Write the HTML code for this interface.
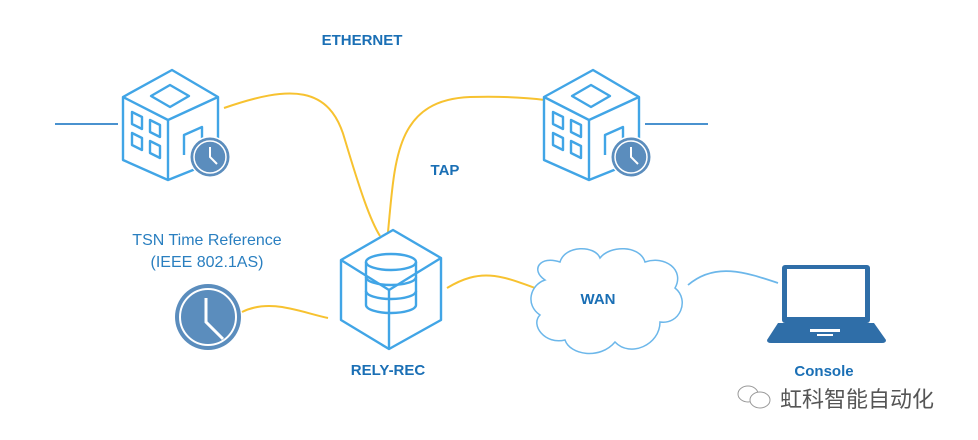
<!DOCTYPE html>
<html><head><meta charset="utf-8"><style>
body{margin:0;background:#fff;width:978px;height:440px;overflow:hidden}
svg{display:block}
text{font-family:"Liberation Sans","Noto Sans CJK SC",sans-serif}
</style></head><body>
<svg width="978" height="440" viewBox="0 0 978 440">
<defs>
<g id="bld" fill="none" stroke="#41a5e6" stroke-width="2.4" stroke-linejoin="round">
<path d="M172,70 L218,97 L218,160 L168,180 L123,160 L123,97 Z"/>
<path d="M123,97 L168,120 L218,97 M168,120 L168,180"/>
<path d="M170,85 L189,96 L170,107 L151,96 Z"/>
<path d="M132,112 l10,5 v12 l-10,-5z M150,120 l10,5 v12 l-10,-5z M132,133 l10,5 v12 l-10,-5z M150,141 l10,5 v12 l-10,-5z"/>
<path d="M184,155 v-20 l18,-8 v20"/>
</g>
</defs>
<line x1="55" y1="124" x2="118" y2="124" stroke="#4a92cf" stroke-width="2"/>
<line x1="645" y1="124" x2="708" y2="124" stroke="#4a92cf" stroke-width="2"/>
<g fill="none" stroke="#f7c230" stroke-width="2">
<path d="M224,108 C290,85 330,85 345,140 C360,190 370,220 380,236"/>
<path d="M388,232 C395,160 395,100 470,97 C510,96 530,98 545,100"/>
<path d="M447,288 C480,268 500,275 535,288"/>
<path d="M242,312 C270,298 300,312 328,318"/>
</g>
<path d="M688,285 C715,262 745,272 778,283" fill="none" stroke="#6cb7ea" stroke-width="1.8"/>
<use href="#bld"/>
<use href="#bld" transform="translate(421,0)"/>
<g transform="translate(210,157)"><circle r="21" fill="#fff"/><circle r="19.5" fill="#5b8dbd"/><circle r="16" fill="none" stroke="#fff" stroke-width="1.5"/><path d="M0,-10 V0 L7,7" stroke="#fff" stroke-width="2" fill="none"/></g>
<g transform="translate(631,157)"><circle r="21" fill="#fff"/><circle r="19.5" fill="#5b8dbd"/><circle r="16" fill="none" stroke="#fff" stroke-width="1.5"/><path d="M0,-10 V0 L7,7" stroke="#fff" stroke-width="2" fill="none"/></g>
<g transform="translate(208,317)"><circle r="33" fill="#5b8dbd"/><circle r="28" fill="none" stroke="#fff" stroke-width="2"/><path d="M-2,-19 V5 L15,22" stroke="#fff" stroke-width="3" fill="none"/></g>
<g fill="none" stroke="#41a5e6" stroke-width="2.4" stroke-linejoin="round">
<path d="M393,230 L441,258 L441,320 L389,349 L341,320 L341,260 Z"/>
<path d="M341,260 L389,290 L441,258 M389,290 V349"/>
<ellipse cx="391" cy="262" rx="25" ry="8"/>
<path d="M366,262 V305 M416,262 V305"/>
<path d="M366,277 A25,8 0 0 0 416,277 M366,291 A25,8 0 0 0 416,291 M366,305 A25,8 0 0 0 416,305"/>
</g>
<path d="M545,280 C530,270 540,255 560,262 C565,245 595,245 600,258 C610,245 640,245 645,262 C665,255 685,270 675,288 C690,300 680,325 660,322 C660,345 630,358 615,342 C600,360 570,355 565,340 C545,345 530,325 540,315 C525,305 530,285 545,280 Z" fill="#fff" stroke="#6cb7ea" stroke-width="1.5"/>
<rect x="782" y="265" width="88" height="58" rx="3" fill="#2f6ea8"/>
<rect x="787" y="269" width="78" height="48" fill="#fff"/>
<path d="M778,323 H874 L886,340 Q886,343 882,343 H771 Q767,343 767,340 Z" fill="#2f6ea8"/>
<rect x="810" y="329" width="30" height="3" fill="#fff"/>
<rect x="817" y="334" width="16" height="2" fill="#fff"/>
<g font-weight="bold" fill="#1a6fb5" font-size="15" text-anchor="middle">
<text x="362" y="45">ETHERNET</text>
<text x="445" y="175">TAP</text>
<text x="598" y="304">WAN</text>
<text x="388" y="375">RELY-REC</text>
<text x="824" y="376">Console</text>
</g>
<g fill="#2a7fc0" font-size="16" text-anchor="middle">
<text x="207" y="245">TSN Time Reference</text>
<text x="207" y="267">(IEEE 802.1AS)</text>
</g>
<g fill="none" stroke="#999" stroke-width="1">
<ellipse cx="748" cy="394" rx="10" ry="8"/><ellipse cx="760" cy="400" rx="10" ry="8" fill="#fff"/>
</g>
<text x="780" y="407" font-size="22" fill="#555">虹科智能自动化</text>
</svg>
</body></html>
